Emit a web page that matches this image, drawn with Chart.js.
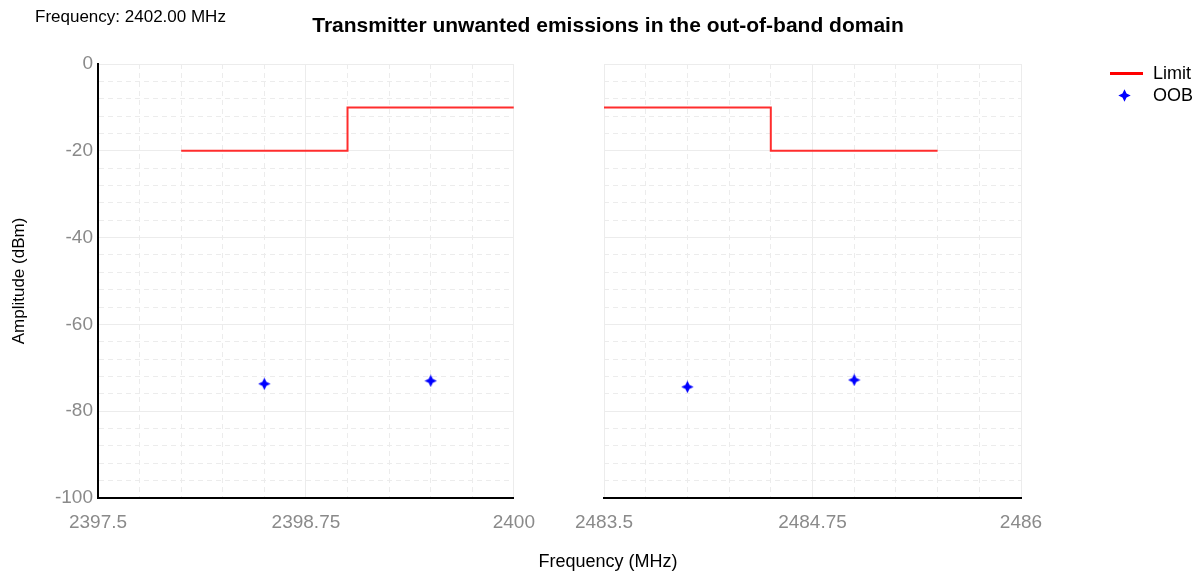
<!DOCTYPE html>
<html>
<head>
<meta charset="utf-8">
<script src="https://cdn.jsdelivr.net/npm/chart.js@4.4.1/dist/chart.umd.min.js"></script>
<style>
  body { margin: 0; width: 1203px; height: 573px; background: #fff; position: relative; overflow: hidden; font-family: "Liberation Sans", Arial, sans-serif; }
  canvas { position: absolute; top: 0; }
  #left { left: 0; }
  #right { left: 560px; }
  .txt { position: absolute; white-space: nowrap; color: #000; }
  #freq { left: 35px; top: 7px; font-size: 17px; }
  #title { left: 608px; top: 13px; transform: translateX(-50%); font-size: 21px; font-weight: bold; }
  #xtitle { left: 608px; top: 551px; transform: translateX(-50%); font-size: 18px; }
  .leg { position: absolute; left: 1153px; font-size: 18px; color: #000; }
  #legLine { position: absolute; left: 1110px; top: 72px; width: 33px; height: 3px; background: #ff0000; }
</style>
</head>
<body>
<canvas id="left" width="548" height="573"></canvas>
<canvas id="right" width="643" height="573"></canvas>
<div class="txt" id="freq">Frequency: 2402.00 MHz</div>
<div class="txt" id="title">Transmitter unwanted emissions in the out-of-band domain</div>
<div class="txt" id="xtitle">Frequency (MHz)</div>
<div id="legLine"></div>
<canvas id="legStar" width="13" height="13" style="position:absolute; left:1118px; top:89px;"></canvas>
<div class="leg" style="top:63px;">Limit</div>
<div class="leg" style="top:85px;">OOB</div>
<script>
// limit mask, lower band edge (MHz / dBm)
const limitLowX = [2398, 2399, 2399, 2400];
const limitLowY = [-20, -20, -10, -10];
// limit mask, upper band edge
const limitHighX = [2483.5, 2484.5, 2484.5, 2485.5];
const limitHighY = [-10, -10, -20, -20];
// measured out-of-band emissions
const oobLowX = [2398.5, 2399.5];
const oobLowY = [-73.7, -73.0];
const oobHighX = [2484.0, 2485.0];
const oobHighY = [-74.4, -72.8];

const lowRange = [2397.5, 2400];
const highRange = [2483.5, 2486];
const xMajor = 1.25;
const xStep = 0.25;
const yMin = -100, yMax = 0, yMajor = 20, yStep = 4;

function pts(xs, ys) {
  return xs.map((x, i) => ({ x: x, y: ys[i] }));
}

// four pointed star marker
function makeStar(cv) {
  const c = cv.getContext('2d');
  const cx = cv.width / 2, cy = cv.height / 2;
  const outer = 6.2, inner = 2.9;
  c.fillStyle = '#0000ff';
  c.beginPath();
  for (let k = 0; k < 8; k++) {
    const a = -Math.PI / 2 + k * Math.PI / 4;
    const r = k % 2 === 0 ? outer : inner;
    const px = cx + r * Math.cos(a), py = cy + r * Math.sin(a);
    if (k === 0) c.moveTo(px, py); else c.lineTo(px, py);
  }
  c.closePath();
  c.fill();
  return cv;
}
const star = document.createElement('canvas');
star.width = 13; star.height = 13;
makeStar(star);
makeStar(document.getElementById('legStar'));

function isMajor(v, base, step) {
  const r = (v - base) / step;
  return Math.abs(r - Math.round(r)) < 1e-6;
}

function makeChart(id, range, limX, limY, oobX, oobY, showY, pad) {
  return new Chart(document.getElementById(id), {
    type: 'scatter',
    data: {
      datasets: [
        {
          label: 'Limit',
          data: pts(limX, limY),
          showLine: true,
          borderColor: 'rgb(255,45,45)',
          borderWidth: 2,
          pointRadius: 0,
          fill: false
        },
        {
          label: 'OOB',
          data: pts(oobX, oobY),
          showLine: false,
          pointStyle: star,
          pointRadius: 6,
          backgroundColor: '#0000ff',
          borderColor: '#0000ff'
        }
      ]
    },
    options: {
      responsive: false,
      animation: false,
      layout: { padding: pad },
      plugins: { legend: { display: false }, tooltip: { enabled: false } },
      scales: {
        x: {
          type: 'linear',
          min: range[0],
          max: range[1],
          afterFit: s => { s.height = 75; },
          ticks: {
            stepSize: xStep,
            maxTicksLimit: 100,
            autoSkip: false,
            maxRotation: 0,
            padding: 13,
            color: '#8a8a8a',
            font: { family: 'Liberation Sans', size: 19 },
            callback: v => isMajor(v, range[0], xMajor) ? String(Math.round(v * 100) / 100) : ''
          },
          grid: {
            drawTicks: false,
            color: '#ececec',
            lineWidth: 1
          },
          border: {
            display: true,
            color: '#000',
            width: 2,
            dash: ctx => (ctx.tick && !isMajor(ctx.tick.value, range[0], xMajor)) ? [5, 4] : []
          }
        },
        y: {
          min: yMin,
          max: yMax,
          afterFit: s => { s.width = showY ? 98 : 0; },
          ticks: {
            display: showY,
            stepSize: yStep,
            maxTicksLimit: 100,
            autoSkip: false,
            padding: 5,
            color: '#8a8a8a',
            font: { family: 'Liberation Sans', size: 19 },
            callback: v => isMajor(v, 0, yMajor) ? String(v) : ''
          },
          title: {
            display: showY,
            text: 'Amplitude (dBm)',
            color: '#000',
            font: { family: 'Liberation Sans', size: 17 },
            padding: { top: 9, bottom: 0 }
          },
          grid: {
            drawTicks: false,
            color: '#ececec',
            lineWidth: 1
          },
          border: {
            display: showY,
            color: '#000',
            width: 2,
            dash: ctx => (ctx.tick && !isMajor(ctx.tick.value, 0, yMajor)) ? [5, 4] : []
          }
        }
      }
    }
  });
}

makeChart('left', lowRange, limitLowX, limitLowY, oobLowX, oobLowY, true,
  { top: 64, right: 25, bottom: 0, left: 0 });
makeChart('right', highRange, limitHighX, limitHighY, oobHighX, oobHighY, false,
  { top: 64, right: 182, bottom: 0, left: 44 });
</script>
</body>
</html>
